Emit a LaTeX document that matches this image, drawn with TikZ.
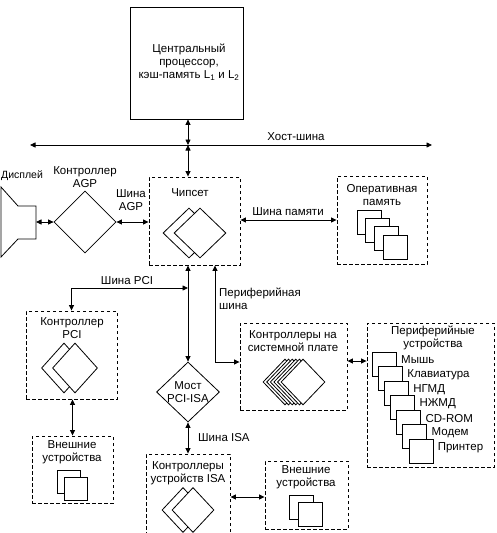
\documentclass[tikz,border=0pt]{standalone}
\usepackage{fontspec}
\setmainfont{Liberation Sans}
\usetikzlibrary{shapes.geometric, arrows.meta}

\begin{document}
\begin{tikzpicture}[x=1pt, y=-1pt, font=\fontsize{11.5}{13}\selectfont]
  \tikzstyle{solidbox} = [rectangle, draw=black, line width=0.8pt, inner sep=0pt]
  \tikzstyle{groupbox} = [rectangle, draw=black, line width=0.9pt, dash pattern=on 3.5pt off 2.5pt, inner sep=0pt]
  \tikzstyle{chip} = [diamond, draw=black, fill=white, line width=0.8pt, inner sep=0pt]
  \tikzstyle{sheet} = [rectangle, draw=black, fill=white, line width=0.8pt, inner sep=0pt, minimum size=24pt]
  \tikzstyle{title} = [align=center, inner sep=0pt]
  \tikzstyle{connector} = [line width=0.8pt, >={Triangle[length=5.5pt,width=5pt]}, <->]

  \useasboundingbox (0,0) rectangle (497,533);

  % Processor and host bus
  \node (cpu) at (186.5,63) [solidbox, minimum width=113pt, minimum height=112pt] {};
  \node (cputext) at (189,62) [title] {Центральный\\процессор,\\кэш-память L\textsubscript{1} и L\textsubscript{2}};
  \coordinate (hostL) at (30,145);
  \coordinate (hostR) at (432,145);
  \coordinate (hostJ) at (188,145);
  \node (hostlabel) at (296,137) [title] {Хост-шина};

  % Chipset
  \node (chipset) at (194.5,221) [groupbox, minimum width=91pt, minimum height=88pt] {};
  \node (chiptitle) at (190,193) [title] {Чипсет};
  \node (chipback) at (189,233) [chip, minimum width=52pt, minimum height=50pt] {};
  \node (chipfront) at (200,233) [chip, minimum width=52pt, minimum height=50pt] {};

  % Left side: display and AGP
  \draw[line width=0.8pt] (1,187) -- (18,206) -- (36,206) -- (36,239) -- (18,239) -- (1,257) -- cycle;
  \coordinate (display) at (36,222);
  \node (displabel) at (1,176) [title, anchor=west, font=\fontsize{10.5}{12}\selectfont] {Дисплей};
  \node (agp) at (85,222) [chip, minimum width=62pt, minimum height=62pt] {};
  \node (agptitle) at (85,177) [title] {Контроллер\\AGP};
  \node (agplabel) at (131,200) [title] {Шина\\AGP};

  % Right side: memory
  \node (ram) at (382,220) [groupbox, minimum width=90pt, minimum height=88pt] {};
  \node (ramtitle) at (382,195) [title] {Оперативная\\память};
  \foreach \i in {0,...,3}
    \node (ram\i) at (369+8.67*\i,222+8.33*\i) [sheet] {};
  \node (ramlabel) at (288,212) [title] {Шина памяти};

  % PCI side
  \node (bridge) at (188,392) [chip, minimum width=63pt, minimum height=60pt, label={[title]center:Мост\\PCI-ISA}] {};
  \coordinate (pciJ) at (188,288);
  \node (pcilabel) at (127,281) [title] {Шина PCI};
  \node (pcictl) at (71.5,355) [groupbox, minimum width=91pt, minimum height=88pt] {};
  \node (pcititle) at (72,328) [title] {Контроллер\\PCI};
  \node (pciback) at (64,368) [chip, minimum width=45pt, minimum height=50pt] {};
  \node (pcifront) at (75,368) [chip, minimum width=45pt, minimum height=50pt] {};
  \node (extA) at (72.5,469.5) [groupbox, minimum width=81pt, minimum height=67pt] {};
  \node (extAtitle) at (72,452) [title] {Внешние\\устройства};
  \node (extA0) at (68.5,482) [sheet, minimum size=23pt] {};
  \node (extA1) at (75.5,489) [sheet, minimum size=23pt] {};

  % Peripheral bus and on-board controllers
  \coordinate (periJ) at (215,362);
  \node (perilabel) at (219,298.5) [title, anchor=west, align=left] {Периферийная\\шина};
  \node (board) at (293.5,366.5) [groupbox, minimum width=107pt, minimum height=87pt] {};
  \node (boardtitle) at (293,341.5) [title] {Контроллеры на\\системной плате};
  \foreach \i in {5,...,0}
    \node (mcu\i) at (303-3.6*\i,382) [chip, minimum width=44pt, minimum height=46pt] {};

  % Peripheral devices
  \node (devices) at (430.5,395) [groupbox, minimum width=127pt, minimum height=144pt] {};
  \node (devtitle) at (433,337.5) [title] {Периферийные\\устройства};
  \foreach \name [count=\i from 0] in {Мышь, Клавиатура, НГМД, НЖМД, CD-ROM, Модем, Принтер} {
    \node (dev\i) at (384+6.17*\i,364+14.5*\i) [sheet] {};
    \node (devlabel\i) at (401+6.1*\i,360+14.6*\i) [title, anchor=west] {\name};
  }

  % ISA side
  \node (isa) at (188,496) [groupbox, minimum width=84pt, minimum height=84pt] {};
  \node (isatitle) at (188,473) [title] {Контроллеры\\устройств ISA};
  \node (isaback) at (183,510) [chip, minimum width=42pt, minimum height=45pt] {};
  \node (isafront) at (193,510) [chip, minimum width=42pt, minimum height=45pt] {};
  \node (isalabel) at (198,438) [title, anchor=west] {Шина ISA};
  \node (extB) at (306.5,495) [groupbox, minimum width=83pt, minimum height=68pt] {};
  \node (extBtitle) at (306,477.5) [title] {Внешние\\устройства};
  \node (extB0) at (301.5,507.5) [sheet] {};
  \node (extB1) at (310,514.5) [sheet] {};

  % Arrows
  \draw[connector] (hostL) -- (hostR);
  \draw[connector] (cpu.south -| hostJ) -- (hostJ);
  \draw[connector] (hostJ) -- (hostJ |- chipset.north);
  \draw[connector] (display) -- (agp.west);
  \draw[connector] (agp.east) -- (chipset.west |- agp.east);
  \draw[connector] (chipset.east |- ram.west) -- (ram.west);
  \draw[connector] (bridge.north |- chipset.south) -- (bridge.north);
  \draw[connector] (pcictl.north) |- (pciJ);
  \draw[connector] (periJ |- chipset.south) |- (board.west |- periJ);
  \draw[connector] (pcictl.south -| extA.north) -- (extA.north);
  \draw[connector] (bridge.south) -- (isa.north -| bridge.south);
  \draw[connector] (isa.east |- 0,497) -- (extB.west |- 0,497);
  \draw[connector] (board.east |- 0,361) -- (devices.west |- 0,361);
\end{tikzpicture}
\end{document}
